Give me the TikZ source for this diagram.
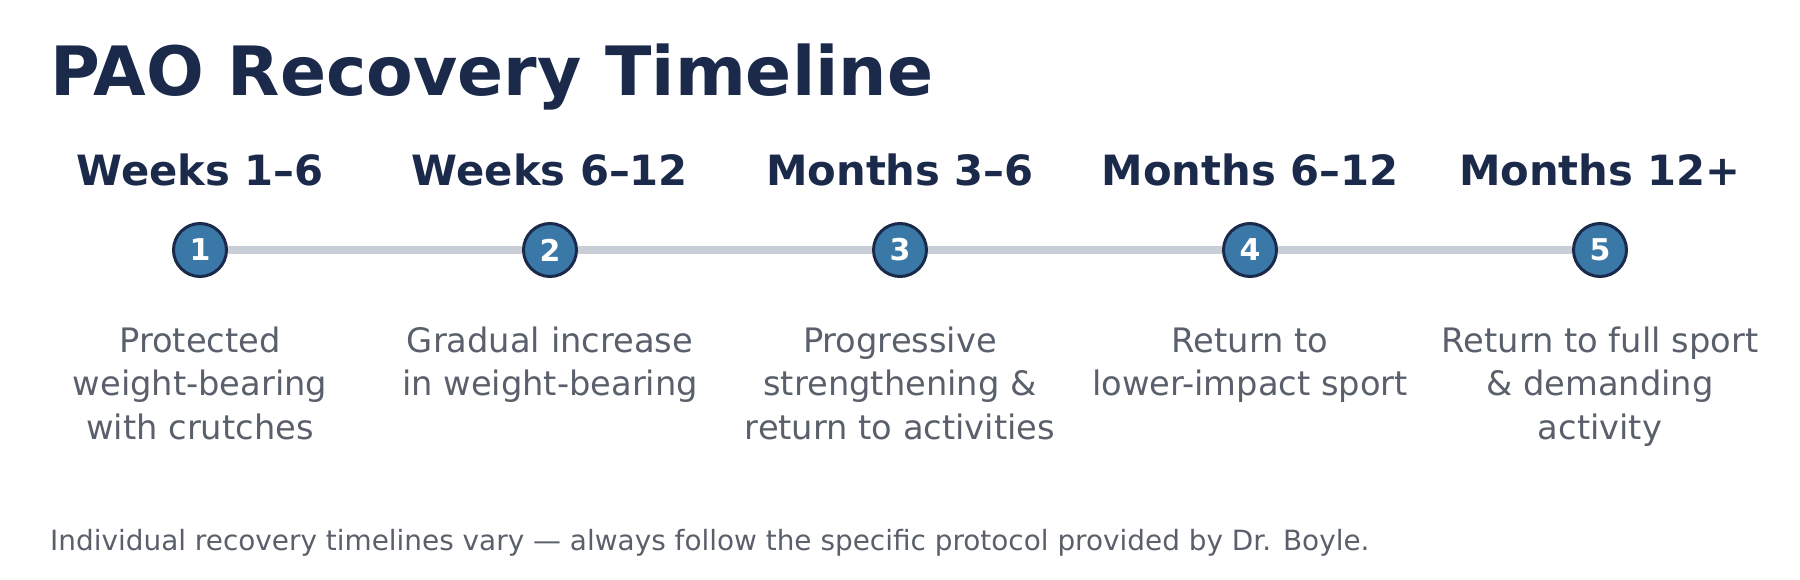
\documentclass[tikz,border=0pt]{standalone}
\usepackage{fontspec}
\setmainfont{DejaVu Sans}
\definecolor{navy}{HTML}{1B2A4A}
\definecolor{stepblue}{HTML}{3A78A8}
\definecolor{trackgray}{HTML}{C9CDD6}
\definecolor{bodygray}{HTML}{5A606B}
\tikzset{
  titletext/.style={anchor=base west, inner sep=0pt, text=navy, font=\fontsize{68}{80}\selectfont\bfseries},
  phase/.style={anchor=base, inner sep=0pt, text=navy, font=\fontsize{41.7}{50}\selectfont\bfseries},
  stepcircle/.style={circle, draw=navy, line width=3pt, fill=stepblue, minimum size=53pt, inner sep=0pt, text=white, font=\fontsize{30}{36}\selectfont\bfseries},
  track/.style={draw=trackgray, line width=8pt},
  desc/.style={anchor=north, inner sep=0pt, align=center, text=bodygray, font=\fontsize{33.7}{43.8}\selectfont},
  foot/.style={anchor=base west, inner sep=0pt, text=bodygray, font=\fontsize{27.9}{34}\selectfont}
}
\begin{document}
\begin{tikzpicture}[x=1pt,y=-1pt]
\useasboundingbox (0,0) rectangle (1800,580);
\node[titletext] (title) at (50,96) {PAO Recovery Timeline};
\node[phase] (h1) at (200,186) {Weeks 1–6};
\node[phase] (h2) at (550,186) {Weeks 6–12};
\node[phase] (h3) at (900,186) {Months 3–6};
\node[phase] (h4) at (1250,186) {Months 6–12};
\node[phase] (h5) at (1600,186) {Months 12+};
\node[stepcircle] (c1) at (200,250) {1};
\node[stepcircle] (c2) at (550,250) {2};
\node[stepcircle] (c3) at (900,250) {3};
\node[stepcircle] (c4) at (1250,250) {4};
\node[stepcircle] (c5) at (1600,250) {5};
\draw[track] (c1) -- (c2);
\draw[track] (c2) -- (c3);
\draw[track] (c3) -- (c4);
\draw[track] (c4) -- (c5);
\node[desc] (d1) at (200,321.3) {\strut Protected\\weight-bearing\\with crutches};
\node[desc] (d2) at (550,321.3) {\strut Gradual increase\\in weight-bearing};
\node[desc] (d3) at (900,321.3) {\strut Progressive\\strengthening \&\\return to activities};
\node[desc] (d4) at (1250,321.3) {\strut Return to\\lower-impact sport};
\node[desc] (d5) at (1600,321.3) {\strut Return to full sport\\\& demanding\\activity};
\node[foot] (note) at (50,550) {Individual recovery timelines vary — always follow the specific protocol provided by Dr. Boyle.};
\end{tikzpicture}
\end{document}
